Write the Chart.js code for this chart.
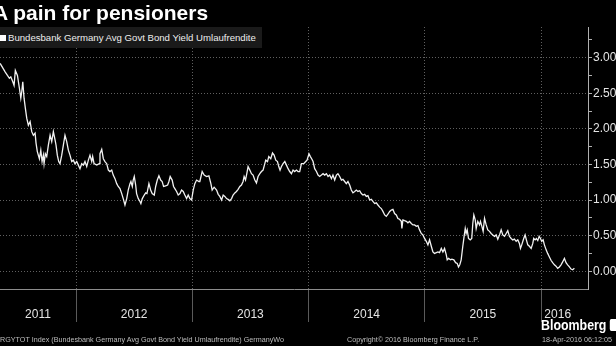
<!DOCTYPE html>
<html>
<head>
<meta charset="utf-8">
<script src="https://cdn.jsdelivr.net/npm/chart.js@4.4.1/dist/chart.umd.min.js"></script>
<style>
html,body{margin:0;padding:0;background:#000;overflow:hidden}
#wrap{position:relative;width:616px;height:346px;overflow:hidden;font-family:"Liberation Sans",Arial,sans-serif;color:#fff}
#wrap canvas{position:absolute;left:0;top:0}
.title{position:absolute;left:-7px;top:1px;font-size:21px;font-weight:bold;white-space:nowrap}
.legend{position:absolute;left:0;top:27px;width:262px;height:21px;background:#1a1a1a;font-size:9.6px;line-height:21px;color:#eee;white-space:nowrap}
.legend i{display:inline-block;width:6px;height:6px;background:#fff;margin-right:2px;vertical-align:0}
.foot{position:absolute;top:335px;font-size:7.2px;color:#bdbdbd;white-space:nowrap}
.logo{position:absolute;left:541px;top:316px;font-size:15.5px;font-weight:bold;white-space:nowrap;transform:scaleX(0.8);transform-origin:0 0}
.logo b{display:inline-block;width:12px;height:12px;background:#fff;border-radius:2px;margin-left:4px;vertical-align:-1px}
</style>
</head>
<body>
<div id="wrap">
  <canvas id="c" width="616" height="346"></canvas>
  <div class="title">A pain for pensioners</div>
  <div class="legend"><i></i>Bundesbank Germany Avg Govt Bond Yield Umlaufrendite</div>
  <div class="logo">Bloomberg<b></b></div>
  <div class="foot" style="left:0">RGYTOT Index (Bundesbank Germany Avg Govt Bond Yield Umlaufrendite) GermanyWo</div>
  <div class="foot" style="left:347px">Copyright© 2016 Bloomberg Finance L.P.</div>
  <div class="foot" style="left:542px">18-Apr-2016 06:12:05</div>
</div>
<script>
/* ===== 数据 ===== */
const years = [2011, 2012, 2013, 2014, 2015, 2016];
const yTicks = [0, 0.5, 1, 1.5, 2, 2.5, 3];
const X_MIN = 2011.346, X_MAX = 2016.404, Y_MIN = -0.25, Y_MAX = 3.43;

// 日期（小数年）
const dates = [
  2011.347,2011.390,2011.410,2011.427,2011.439,2011.456,2011.467,2011.478,2011.496,2011.513,2011.525,2011.533,2011.542,2011.553,2011.564,2011.576,2011.590,2011.605,2011.619,2011.633,2011.648,2011.656,2011.667,2011.685,2011.697,2011.708,2011.719,2011.725,2011.736,2011.748,2011.762,2011.777,2011.791,2011.805,2011.820,2011.828,2011.839,2011.851,2011.862,2011.877,2011.891,2011.905,2011.920,2011.934,2011.948,2011.963,2011.977,2011.991,
  2012.006,2012.020,2012.034,2012.049,2012.063,2012.077,2012.092,2012.106,2012.120,2012.135,2012.143,2012.155,2012.178,2012.200,2012.206,2012.221,2012.235,2012.249,2012.264,2012.278,2012.292,2012.307,2012.320,2012.335,2012.350,2012.363,2012.378,2012.393,2012.406,2012.421,2012.436,2012.449,2012.464,2012.472,2012.484,2012.492,2012.501,2012.513,2012.521,2012.535,2012.550,2012.558,2012.570,2012.587,2012.599,2012.610,2012.627,2012.642,2012.655,2012.673,2012.685,2012.699,2012.713,2012.728,2012.741,2012.753,2012.771,2012.788,2012.799,2012.810,2012.827,2012.839,2012.850,2012.865,2012.879,2012.894,2012.908,2012.922,2012.936,2012.951,2012.965,2012.979,2012.994,
  2013.008,2013.022,2013.037,2013.057,2013.065,2013.085,2013.102,2013.123,2013.143,2013.160,2013.171,2013.188,2013.209,2013.223,2013.237,2013.252,2013.266,2013.280,2013.295,2013.308,2013.323,2013.338,2013.351,2013.366,2013.380,2013.394,2013.409,2013.423,2013.437,2013.446,2013.458,2013.469,2013.480,2013.495,2013.509,2013.523,2013.538,2013.552,2013.566,2013.581,2013.595,2013.609,2013.624,2013.632,2013.647,2013.658,2013.675,2013.690,2013.704,2013.718,2013.733,2013.744,2013.755,2013.767,2013.781,2013.796,2013.810,2013.824,2013.838,2013.853,2013.867,2013.881,2013.896,2013.910,2013.924,2013.939,2013.959,2013.976,2013.987,
  2014.004,2014.016,2014.027,2014.039,2014.053,2014.068,2014.082,2014.096,2014.111,2014.125,2014.139,2014.154,2014.168,2014.182,2014.197,2014.210,2014.225,2014.240,2014.253,2014.268,2014.283,2014.296,2014.311,2014.325,2014.339,2014.354,2014.368,2014.382,2014.397,2014.411,2014.425,2014.440,2014.454,2014.468,2014.483,2014.497,2014.511,2014.526,2014.540,2014.554,2014.569,2014.583,2014.597,2014.612,2014.626,2014.640,2014.655,2014.669,2014.683,2014.698,2014.712,2014.726,2014.740,2014.755,2014.769,2014.783,2014.798,2014.803,2014.812,2014.826,2014.841,2014.855,2014.869,2014.884,2014.898,2014.912,2014.927,2014.941,2014.955,2014.970,2014.984,2014.998,
  2015.013,2015.027,2015.041,2015.056,2015.070,2015.084,2015.099,2015.113,2015.127,2015.142,2015.156,2015.170,2015.185,2015.193,2015.204,2015.222,2015.233,2015.250,2015.265,2015.279,2015.290,2015.301,2015.313,2015.327,2015.336,2015.348,2015.356,2015.365,2015.376,2015.391,2015.404,2015.413,2015.422,2015.434,2015.442,2015.456,2015.471,2015.479,2015.491,2015.502,2015.514,2015.528,2015.542,2015.557,2015.571,2015.585,2015.600,2015.614,2015.628,2015.643,2015.657,2015.671,2015.686,2015.700,2015.714,2015.728,2015.743,2015.757,2015.771,2015.786,2015.800,2015.814,2015.823,2015.834,2015.851,2015.863,2015.874,2015.886,2015.900,2015.915,2015.929,2015.937,2015.949,2015.960,2015.972,2015.984,2015.995,
  2016.006,2016.018,2016.029,2016.044,2016.057,2016.072,2016.087,2016.100,2016.115,2016.129,2016.143,2016.158,2016.172,2016.186,2016.201,2016.215,2016.229,2016.244,2016.258,2016.272,2016.287
];

// 收益率 %
const yields = [
  2.92,2.80,2.75,2.71,2.73,2.66,2.61,2.82,2.75,2.57,2.43,2.52,2.66,2.43,2.29,2.15,2.05,2.10,1.96,1.91,1.94,1.80,1.68,1.58,1.70,1.54,1.63,1.51,1.65,1.61,1.77,1.91,1.82,1.96,1.84,1.77,1.63,1.54,1.51,1.63,1.77,1.91,1.82,1.70,1.63,1.54,1.56,1.51,
  1.54,1.49,1.44,1.51,1.49,1.54,1.47,1.56,1.63,1.54,1.61,1.51,1.49,1.51,1.65,1.71,1.58,1.54,1.51,1.42,1.40,1.42,1.35,1.30,1.23,1.19,1.16,1.09,1.02,0.93,1.02,1.14,1.23,1.26,1.19,1.28,1.33,1.21,1.09,1.02,0.98,0.95,1.02,1.07,1.10,1.09,1.23,1.14,1.09,1.07,1.19,1.28,1.34,1.28,1.26,1.19,1.20,1.21,1.26,1.33,1.28,1.19,1.16,1.12,1.07,1.09,1.14,1.12,1.07,1.02,1.07,1.02,1.00,
  1.14,1.23,1.28,1.26,1.26,1.40,1.35,1.33,1.34,1.23,1.14,1.18,1.14,1.08,1.05,1.00,1.07,1.05,1.02,1.01,0.99,1.02,1.07,1.10,1.12,1.15,1.19,1.21,1.26,1.33,1.28,1.37,1.47,1.42,1.37,1.35,1.28,1.24,1.33,1.37,1.40,1.42,1.51,1.56,1.54,1.61,1.58,1.66,1.63,1.56,1.54,1.47,1.42,1.47,1.51,1.54,1.49,1.44,1.40,1.37,1.42,1.40,1.42,1.40,1.40,1.51,1.51,1.54,1.56,
  1.65,1.61,1.58,1.54,1.44,1.40,1.35,1.33,1.35,1.37,1.35,1.37,1.33,1.35,1.30,1.35,1.28,1.35,1.37,1.33,1.28,1.29,1.26,1.23,1.26,1.21,1.14,1.10,1.12,1.14,1.12,1.13,1.09,1.07,1.08,1.05,1.06,1.00,1.01,0.98,0.95,0.96,0.93,0.90,0.88,0.84,0.79,0.77,0.80,0.84,0.86,0.87,0.81,0.79,0.74,0.73,0.70,0.60,0.72,0.71,0.70,0.68,0.70,0.67,0.65,0.65,0.63,0.64,0.58,0.53,0.51,0.46,
  0.42,0.37,0.44,0.35,0.27,0.25,0.26,0.27,0.26,0.32,0.27,0.32,0.23,0.16,0.18,0.16,0.17,0.16,0.12,0.11,0.06,0.09,0.16,0.35,0.46,0.60,0.53,0.58,0.46,0.44,0.46,0.67,0.79,0.72,0.60,0.70,0.65,0.70,0.63,0.56,0.74,0.65,0.58,0.56,0.53,0.51,0.49,0.51,0.45,0.51,0.58,0.51,0.49,0.53,0.57,0.49,0.46,0.44,0.45,0.42,0.44,0.39,0.32,0.37,0.46,0.51,0.44,0.37,0.35,0.32,0.39,0.46,0.44,0.46,0.43,0.49,0.46,
  0.42,0.44,0.37,0.30,0.25,0.20,0.15,0.12,0.09,0.07,0.04,0.06,0.09,0.13,0.18,0.12,0.09,0.06,0.03,0.02,0.04
];

/* ===== 年份标签：放在每年可见区间的中间 ===== */
const yearLabels = {
  id: "yearLabels",
  afterDraw(chart){
    const {ctx, scales:{x}} = chart;
    const last = dates[dates.length-1];
    ctx.save();
    ctx.fillStyle = "#e4e4e4";
    ctx.font = '12px "Liberation Sans"';
    ctx.textAlign = "center";
    ctx.textBaseline = "middle";
    years.forEach(yr => {
      const a = Math.max(yr, x.min), b = Math.min(yr+1, last);
      ctx.fillText(String(yr), x.getPixelForValue((a+b)/2), x.top + 26);
    });
    ctx.restore();
  }
};

const isMajor = v => Math.abs(v*2 - Math.round(v*2)) < 1e-6;

new Chart(document.getElementById("c"), {
  type: "line",
  data: {
    datasets: [{
      data: dates.map((d,i) => ({x:d, y:yields[i]})),
      borderColor: "#f2f2f2",
      borderWidth: 1.3,
      pointRadius: 0,
      tension: 0
    }]
  },
  options: {
    responsive: false,
    animation: false,
    events: [],
    layout: {padding:{top:27, left:0, right:0, bottom:0}},
    plugins: {legend:{display:false}, tooltip:{enabled:false}},
    scales: {
      x: {
        type: "linear", min: X_MIN, max: X_MAX,
        afterBuildTicks: s => { s.ticks = years.slice(1).map(v => ({value:v})); },
        afterFit: s => { s.height = 57; s.paddingLeft = 0; s.paddingRight = 0; },
        ticks: {display:false, autoSkip:false},
        grid: {color:"#606060", lineWidth:1, tickLength:33, tickColor:"#5a5a5a", tickBorderDash:[]},
        border: {display:true, color:"#8c8c8c", dash:[1,2]}
      },
      y: {
        type: "linear", position: "right", min: Y_MIN, max: Y_MAX,
        afterBuildTicks: s => {
          const t = [];
          yTicks.forEach(v => { t.push({value:v}); t.push({value:v+0.25}); });
          s.ticks = t;
        },
        afterFit: s => { s.width = 28; s.paddingTop = 0; s.paddingBottom = 0; },
        ticks: {
          color: "#e4e4e4", padding: 1, autoSkip: false,
          font: {family:"Liberation Sans", size:12},
          callback: v => isMajor(v) ? v.toFixed(2) : ""
        },
        grid: {
          color: c => (c.tick && isMajor(c.tick.value)) ? "#606060" : "rgba(0,0,0,0)",
          tickLength: 4, tickColor: "#b0b0b0", tickBorderDash: []
        },
        border: {display:true, color:"#b0b0b0", dash:[1,2]}
      }
    }
  },
  plugins: [yearLabels]
});
</script>
</body>
</html>
